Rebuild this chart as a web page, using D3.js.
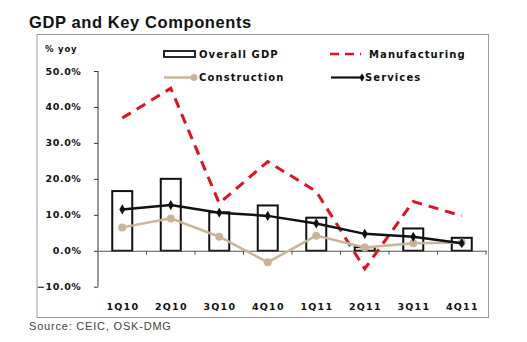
<!DOCTYPE html>
<html><head><meta charset="utf-8">
<script src="https://cdn.jsdelivr.net/npm/d3@7"></script>
<style>
body{margin:0;background:#fff;}
text{font-family:"Liberation Sans",Arial,sans-serif;}
.hv{font-family:"DejaVu Sans",sans-serif;font-weight:bold;}
</style></head>
<body><svg id="c" width="527" height="342"></svg>
<script>
const categories = ["1Q10","2Q10","3Q10","4Q10","1Q11","2Q11","3Q11","4Q11"];
const overallGDP = [16.6, 20.0, 10.7, 12.6, 9.2, 1.0, 6.2, 3.6];
const manufacturing = [36.9, 45.2, 13.2, 24.8, 16.5, -5.0, 13.7, 9.7];
const construction = [6.5, 9.0, 3.9, -3.2, 4.2, 0.9, 2.1, 2.3];
const services = [11.5, 12.7, 10.6, 9.7, 7.6, 4.7, 3.9, 2.1];
const yTicks = [-10, 0, 10, 20, 30, 40, 50];

const svg = d3.select("#c");
const x = d3.scaleBand().domain(categories).range([98, 486]).paddingInner(0).paddingOuter(0);
const y = d3.scaleLinear().domain([-10, 50]).range([286.7, 71]);

// title
svg.append("text").attr("x", 29).attr("y", 27.5).attr("font-size", 16.5).attr("font-weight", "bold")
  .attr("letter-spacing", 0.6).attr("fill", "#111").text("GDP and Key Components");
// frame
svg.append("rect").attr("x", 37).attr("y", 34.5).attr("width", 451.5).attr("height", 283)
  .attr("fill", "none").attr("stroke", "#999").attr("stroke-width", 1);

// y axis
const ya = svg.append("g").attr("transform", "translate(98,0)")
  .call(d3.axisLeft(y).tickValues(yTicks).tickSize(4).tickFormat(d => d3.format(".1f")(d) + "%"));
ya.select(".domain").attr("stroke", "#333").attr("d", `M-0,${y(50)}V${y(-10)}`);
ya.selectAll(".tick line").attr("stroke", "#333");
ya.selectAll(".tick text").attr("class", "hv").attr("font-size", 9.5).attr("fill", "#111")
  .attr("x", -16.5).attr("letter-spacing", 0.6);

svg.append("text").attr("class", "hv").attr("x", 45).attr("y", 51.5).attr("font-size", 8.5)
  .attr("letter-spacing", 0.8).attr("fill", "#111").text("% yoy");

// bars
const bw = 20;
svg.append("g").selectAll("rect").data(overallGDP).join("rect")
  .attr("x", (d, i) => x(categories[i]) + x.bandwidth() / 2 - bw / 2)
  .attr("y", d => y(Math.max(0, d)))
  .attr("width", bw)
  .attr("height", d => Math.abs(y(d) - y(0)))
  .attr("fill", "#fff").attr("stroke", "#111").attr("stroke-width", 2);

// x axis
const xa = svg.append("g").attr("transform", `translate(0,${y(0)})`)
  .call(d3.axisBottom(x).tickSize(0).tickFormat(""));
xa.select(".domain").attr("stroke", "#555");
const bounds = d3.range(1, categories.length + 1).map(i => 98 + i * x.step());
svg.append("g").selectAll("line").data(bounds).join("line")
  .attr("x1", d => d).attr("x2", d => d).attr("y1", y(0)).attr("y2", y(0) + 4)
  .attr("stroke", "#555");
svg.append("g").selectAll("text").data(categories).join("text")
  .attr("class", "hv").attr("x", d => x(d) + x.bandwidth() / 2 + 0.6).attr("y", 309.5)
  .attr("text-anchor", "middle").attr("font-size", 9.5).attr("letter-spacing", 1.2)
  .attr("fill", "#111").text(d => d);

const cx = (d, i) => x(categories[i]) + x.bandwidth() / 2;
const line = d3.line().x(cx).y(d => y(d));

// manufacturing
svg.append("path").datum(manufacturing).attr("d", line).attr("fill", "none")
  .attr("stroke", "#e3101d").attr("stroke-width", 3).attr("stroke-dasharray", "10,7");
// construction
svg.append("path").datum(construction).attr("d", line).attr("fill", "none")
  .attr("stroke", "#c9b498").attr("stroke-width", 2.5);
svg.append("g").selectAll("circle").data(construction).join("circle")
  .attr("cx", cx).attr("cy", d => y(d)).attr("r", 4).attr("fill", "#c9b498");
// services
svg.append("path").datum(services).attr("d", line).attr("fill", "none")
  .attr("stroke", "#111").attr("stroke-width", 2.5);
svg.append("g").selectAll("path").data(services).join("path")
  .attr("transform", (d, i) => `translate(${cx(d, i)},${y(d)})`)
  .attr("d", d3.symbol(d3.symbolDiamond, 30)).attr("fill", "#111");

// legend
const lg = svg.append("g");
const lfs = 10, lls = 1.1;
lg.append("rect").attr("x", 164).attr("y", 51).attr("width", 31).attr("height", 6)
  .attr("fill", "#fff").attr("stroke", "#111").attr("stroke-width", 1.8);
lg.append("text").attr("class", "hv").attr("x", 199).attr("y", 57.5).attr("font-size", lfs)
  .attr("letter-spacing", lls).attr("fill", "#111").text("Overall GDP");
lg.append("line").attr("x1", 330).attr("x2", 361).attr("y1", 54).attr("y2", 54)
  .attr("stroke", "#e3101d").attr("stroke-width", 2.5).attr("stroke-dasharray", "9,6");
lg.append("text").attr("class", "hv").attr("x", 369).attr("y", 57.5).attr("font-size", lfs)
  .attr("letter-spacing", lls).attr("fill", "#111").text("Manufacturing");
lg.append("line").attr("x1", 164).attr("x2", 194).attr("y1", 77.5).attr("y2", 77.5)
  .attr("stroke", "#c9b498").attr("stroke-width", 2.5);
lg.append("circle").attr("cx", 194).attr("cy", 77.5).attr("r", 3.5).attr("fill", "#c9b498");
lg.append("text").attr("class", "hv").attr("x", 199).attr("y", 81).attr("font-size", lfs)
  .attr("letter-spacing", lls).attr("fill", "#111").text("Construction");
lg.append("line").attr("x1", 331).attr("x2", 362).attr("y1", 77.5).attr("y2", 77.5)
  .attr("stroke", "#111").attr("stroke-width", 2.2);
lg.append("path").attr("transform", "translate(362,77.5)").attr("d", d3.symbol(d3.symbolDiamond, 22)).attr("fill", "#111");
lg.append("text").attr("class", "hv").attr("x", 365).attr("y", 81).attr("font-size", lfs)
  .attr("letter-spacing", lls).attr("fill", "#111").text("Services");

// source
svg.append("text").attr("x", 29).attr("y", 330).attr("font-size", 11).attr("fill", "#444")
  .attr("letter-spacing", 0.8).text("Source: CEIC, OSK-DMG");
</script></body></html>
